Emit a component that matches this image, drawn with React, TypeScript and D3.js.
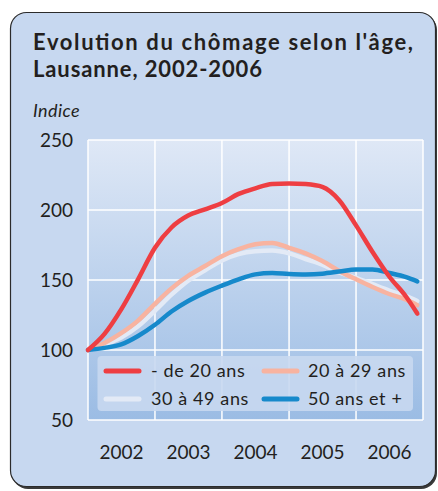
import React, { useRef, useEffect } from 'react';
import * as d3 from 'd3';

// trimestres 2002-2006 (dernier point: décembre 2006)
const dates = [
  '2002-01-01', '2002-04-01', '2002-07-01', '2002-10-01',
  '2003-01-01', '2003-04-01', '2003-07-01', '2003-10-01',
  '2004-01-01', '2004-04-01', '2004-07-01', '2004-10-01',
  '2005-01-01', '2005-04-01', '2005-07-01', '2005-10-01',
  '2006-01-01', '2006-04-01', '2006-07-01', '2006-10-01', '2006-12-01',
];

const moins20 = [100, 111.5, 129, 150.5, 173, 187.5, 196, 200.5, 205, 211.5, 215.5, 218.5, 219, 218.5, 216.5, 207, 189, 170, 152.5, 138, 126];
const ans20_29 = [100, 105, 112, 121, 133, 144, 153, 160, 167, 172, 175.5, 176.5, 173, 169, 163.5, 156.5, 150.5, 145, 140, 136, 132];
const ans30_49 = [100, 104, 109, 117, 128, 139.5, 149.5, 157, 164, 168.5, 170.5, 171, 169, 165, 161, 155.5, 151.5, 147, 142.5, 138.5, 135];
const ans50plus = [100, 101.5, 104, 110, 118, 127.5, 135, 141, 146, 150.5, 154, 155, 154.3, 154, 154.5, 156, 157.5, 157.5, 155, 152, 149];

const years = ['2002', '2003', '2004', '2005', '2006'];
const yTicks = [50, 100, 150, 200, 250];

const seriesNames = ['- de 20 ans', '20 à 29 ans', '30 à 49 ans', '50 ans et +'];
const seriesColors = ['#ee3e42', '#f8b3a0', '#e3eaf6', '#1689cb'];

const FONT = 'Lato, "Open Sans", sans-serif';
const INK = '#231f20';

const App = () => {
  const ref = useRef<SVGSVGElement>(null);

  useEffect(() => {
    const svg = d3.select(ref.current);
    svg.selectAll('*').remove();

    const left = 88, right = 423, top = 140, bottom = 420;
    const parse = d3.timeParse('%Y-%m-%d');
    const x = d3.scaleTime()
      .domain([new Date(2002, 0, 1), new Date(2007, 0, 1)])
      .range([left, right]);
    const y = d3.scaleLinear().domain([50, 250]).range([bottom, top]);

    const defs = svg.append('defs');
    const grad = defs.append('linearGradient')
      .attr('id', 'plotbg').attr('x1', 0).attr('y1', 0).attr('x2', 0).attr('y2', 1);
    grad.append('stop').attr('offset', '0%').attr('stop-color', '#dfe8f6');
    grad.append('stop').attr('offset', '100%').attr('stop-color', '#9bbce4');

    // cadre
    svg.append('rect')
      .attr('x', 12).attr('y', 14).attr('width', 425).attr('height', 475)
      .attr('rx', 16).attr('fill', '#3a3a3a');
    svg.append('rect')
      .attr('x', 10.5).attr('y', 12.5).attr('width', 425).attr('height', 474)
      .attr('rx', 16).attr('fill', '#c7d8f0')
      .attr('stroke', '#2b2b2b').attr('stroke-width', 1.2);

    // titre
    const title = svg.append('text')
      .attr('font-family', FONT).attr('font-weight', 'bold')
      .attr('font-size', 22).attr('fill', INK);
    title.append('tspan').attr('x', 33).attr('y', 50)
      .attr('textLength', 380).attr('lengthAdjust', 'spacing')
      .text("Evolution du chômage selon l'âge,");
    title.append('tspan').attr('x', 33).attr('y', 77)
      .attr('textLength', 229).attr('lengthAdjust', 'spacing')
      .text('Lausanne, 2002-2006');

    svg.append('text')
      .attr('x', 33).attr('y', 117)
      .attr('font-family', FONT).attr('font-style', 'italic')
      .attr('font-size', 18).attr('fill', INK)
      .attr('letter-spacing', 0.4)
      .text('Indice');

    // zone du graphique
    svg.append('rect')
      .attr('x', left).attr('y', top)
      .attr('width', right - left).attr('height', bottom - top)
      .attr('fill', 'url(#plotbg)');

    const yearStarts = years.map(yr => new Date(+yr, 0, 1)).concat([new Date(2007, 0, 1)]);

    svg.append('g')
      .selectAll('line')
      .data(yearStarts)
      .enter().append('line')
      .attr('x1', d => x(d)).attr('x2', d => x(d))
      .attr('y1', top).attr('y2', bottom)
      .attr('stroke', '#fff').attr('stroke-width', 1.5);

    svg.append('g')
      .selectAll('line')
      .data(yTicks)
      .enter().append('line')
      .attr('x1', left).attr('x2', right)
      .attr('y1', d => y(d)).attr('y2', d => y(d))
      .attr('stroke', '#fff').attr('stroke-width', 1.5);

    // étiquettes des axes
    svg.append('g')
      .selectAll('text')
      .data(yTicks)
      .enter().append('text')
      .attr('x', 73).attr('y', d => y(d))
      .attr('dy', '0.36em')
      .attr('text-anchor', 'end')
      .attr('font-family', FONT).attr('font-size', 19).attr('fill', INK)
      .text(d => d);

    svg.append('g')
      .selectAll('text')
      .data(years)
      .enter().append('text')
      .attr('x', d => (x(new Date(+d, 0, 1)) + x(new Date(+d + 1, 0, 1))) / 2)
      .attr('y', 459)
      .attr('text-anchor', 'middle')
      .attr('font-family', FONT).attr('font-size', 19).attr('fill', INK)
      .text(d => d);

    // courbes
    const series = [ans30_49, ans20_29, ans50plus, moins20];
    const colorsInOrder = [seriesColors[2], seriesColors[1], seriesColors[3], seriesColors[0]];
    const line = d3.line<number>()
      .x((_, i) => x(parse(dates[i]) as Date))
      .y(d => y(d))
      .curve(d3.curveMonotoneX);

    svg.append('g')
      .selectAll('path')
      .data(series)
      .enter().append('path')
      .attr('d', d => line(d))
      .attr('fill', 'none')
      .attr('stroke', (_, i) => colorsInOrder[i])
      .attr('stroke-width', 4.5)
      .attr('stroke-linecap', 'round')
      .attr('stroke-linejoin', 'round');

    // légende
    svg.append('rect')
      .attr('x', 97.5).attr('y', 356)
      .attr('width', 315.5).attr('height', 55)
      .attr('rx', 4)
      .attr('fill', '#c8d8f0').attr('fill-opacity', 0.9);

    const legendPos = [
      { sx: 106, tx: 151, y: 371 },
      { sx: 264, tx: 308, y: 371 },
      { sx: 106, tx: 151, y: 399 },
      { sx: 264, tx: 308, y: 399 },
    ];
    const lg = svg.append('g')
      .selectAll('g')
      .data(seriesNames)
      .enter().append('g');
    lg.append('line')
      .attr('x1', (_, i) => legendPos[i].sx)
      .attr('x2', (_, i) => legendPos[i].sx + 33)
      .attr('y1', (_, i) => legendPos[i].y)
      .attr('y2', (_, i) => legendPos[i].y)
      .attr('stroke', (_, i) => seriesColors[i])
      .attr('stroke-width', 5)
      .attr('stroke-linecap', 'round');
    lg.append('text')
      .attr('x', (_, i) => legendPos[i].tx)
      .attr('y', (_, i) => legendPos[i].y)
      .attr('dy', '0.36em')
      .attr('font-family', FONT).attr('font-size', 18).attr('fill', INK)
      .attr('letter-spacing', 0.6)
      .text(d => d);
  }, []);

  return (
    <svg ref={ref} width={438} height={491}
      style={{ position: 'absolute', left: 0, top: 0, display: 'block' }} />
  );
};

export default App;
